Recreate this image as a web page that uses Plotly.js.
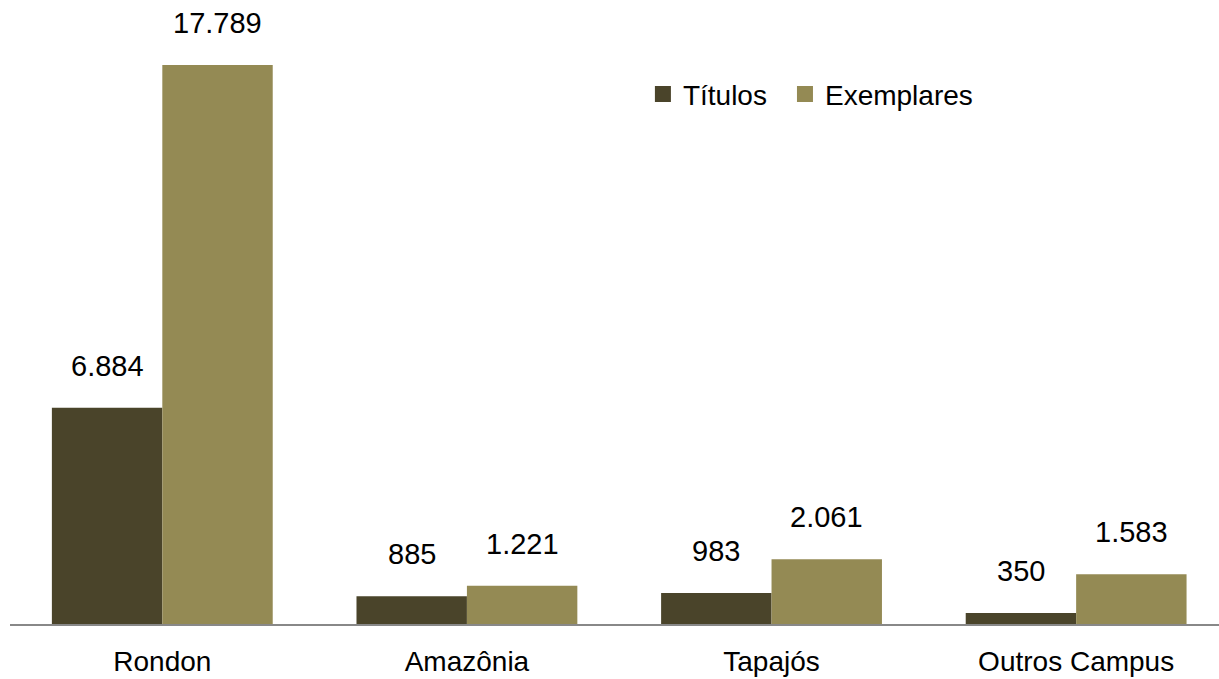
<!DOCTYPE html>
<html>
<head>
<meta charset="utf-8">
<script src="https://cdn.plot.ly/plotly-3.0.1.min.js"></script>
<style>
  html, body { margin: 0; padding: 0; background: #ffffff; }
  #chart { width: 1219px; height: 679px; }
</style>
</head>
<body>
<div id="chart"></div>
<script>
const categories = ["Rondon", "Amazônia", "Tapajós", "Outros Campus"];
const seriesNames = ["Títulos", "Exemplares"];
const titulos = [6884, 885, 983, 350];
const exemplares = [17789, 1221, 2061, 1583];

const FONT = '"Liberation Sans Narrow", "Arial Narrow", "Liberation Sans", Arial, sans-serif';
const colors = ["#4A442A", "#948A54"];
const bargap = 0.275;

function fmt(v) {
  return String(v).replace(/\B(?=(\d{3})+(?!\d))/g, ".");
}

const traces = [
  { type: "bar", name: seriesNames[0], x: categories, y: titulos, legendgroup: "t",
    marker: { color: colors[0] }, hoverinfo: "none", showlegend: false },
  { type: "bar", name: seriesNames[1], x: categories, y: exemplares, legendgroup: "e",
    marker: { color: colors[1] }, hoverinfo: "none", showlegend: false },
  { type: "scatter", mode: "markers", name: seriesNames[0], legendgroup: "t", legend: "legend",
    x: [null], y: [null], marker: { symbol: "square", size: 17, color: colors[0] } },
  { type: "scatter", mode: "markers", name: seriesNames[1], legendgroup: "e", legend: "legend2",
    x: [null], y: [null], marker: { symbol: "square", size: 17, color: colors[1] } }
];

const half = (1 - bargap) / 4;
const annotations = [];
[titulos, exemplares].forEach((arr, s) => {
  arr.forEach((v, i) => {
    annotations.push({
      x: i + (s === 0 ? -half : half), y: v, xref: "x", yref: "y",
      text: fmt(v), showarrow: false, yanchor: "bottom", yshift: 24,
      font: { family: FONT, size: 29, color: "#000000" }
    });
  });
});

const legendBase = {
  orientation: "h", y: 0.849, xanchor: "left", yanchor: "middle",
  font: { family: FONT, size: 28, color: "#000000" },
  itemclick: false, itemdoubleclick: false, tracegroupgap: 0,
  itemsizing: "trace", itemwidth: 30, bgcolor: "rgba(0,0,0,0)"
};

const layout = {
  width: 1219, height: 679,
  margin: { l: 10, r: 0, t: 0, b: 55 },
  paper_bgcolor: "#ffffff", plot_bgcolor: "#ffffff",
  barmode: "group", bargap: bargap, bargroupgap: 0,
  showlegend: true,
  legend: Object.assign({}, legendBase, { x: 0.5235 }),
  legend2: Object.assign({}, legendBase, { x: 0.641 }),
  xaxis: {
    type: "category", range: [-0.5, 3.469],
    showline: true, linecolor: "#888888", linewidth: 2,
    ticks: "", showgrid: false, zeroline: false,
    tickfont: { family: FONT, size: 28, color: "#000000" },
    ticklabelstandoff: 11
  },
  yaxis: {
    range: [0, 19857], visible: false, showgrid: false, zeroline: false
  },
  annotations: annotations
};

Plotly.newPlot("chart", traces, layout, { displayModeBar: false, staticPlot: true });
</script>
</body>
</html>
